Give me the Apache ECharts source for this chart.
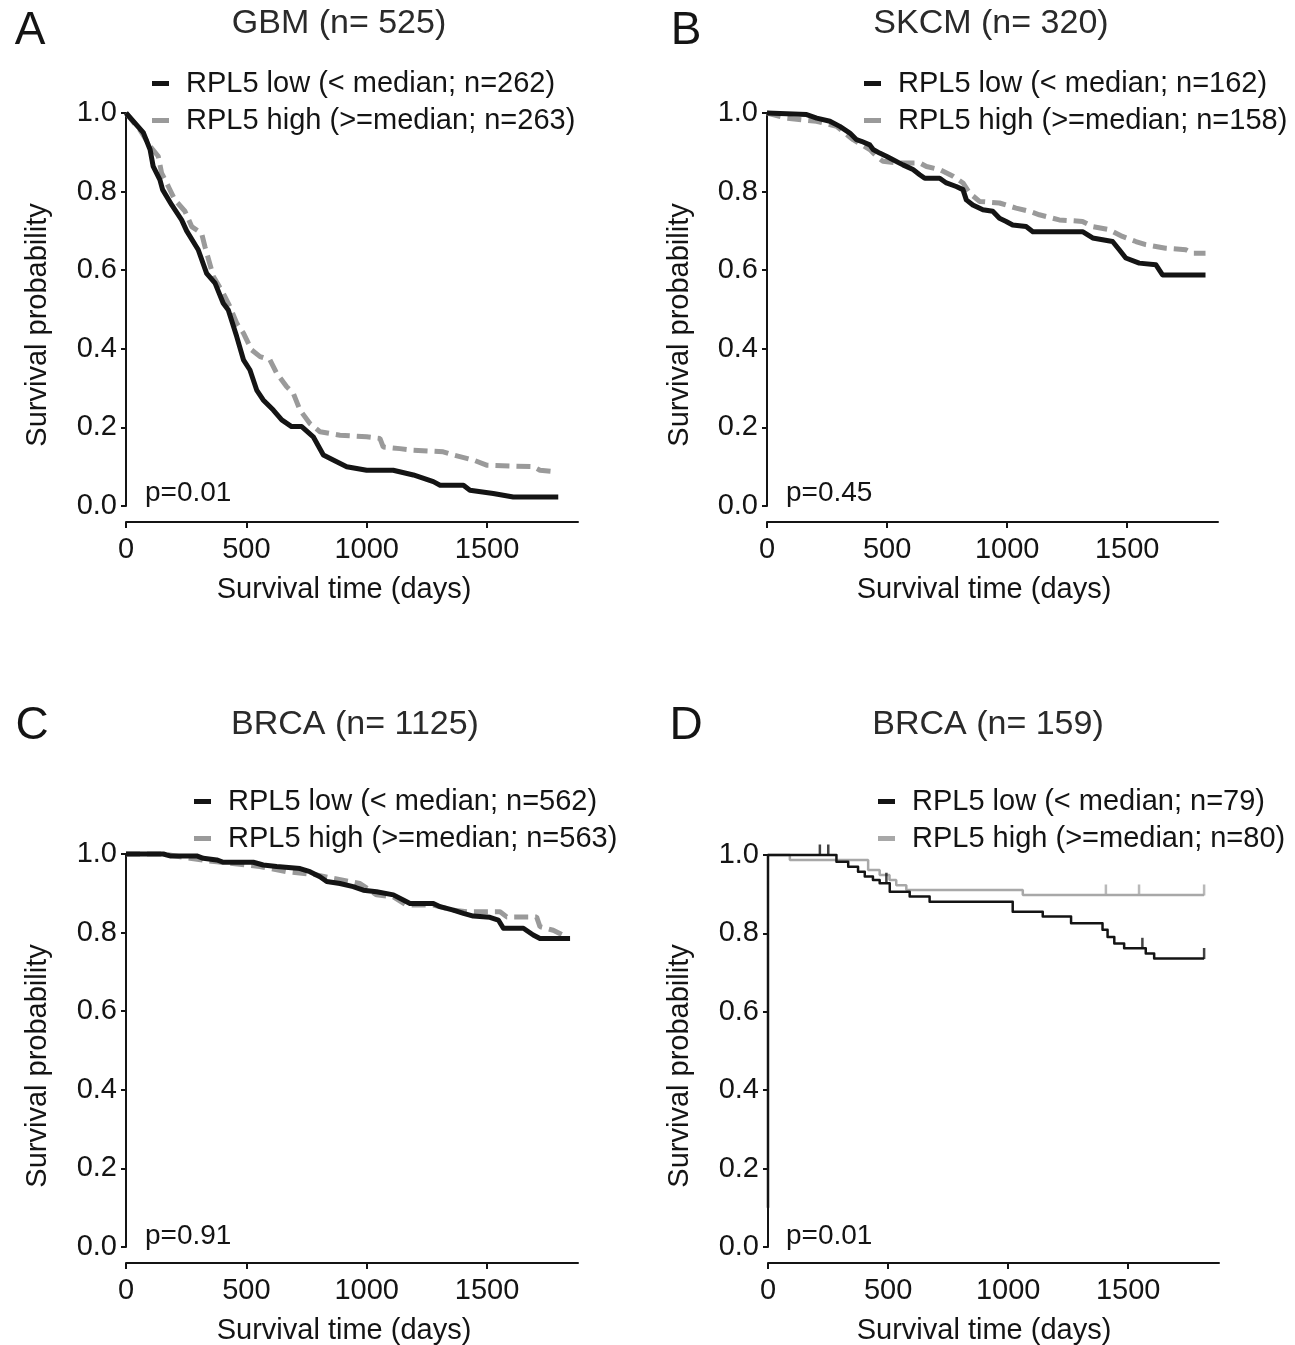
<!DOCTYPE html>
<html>
<head>
<meta charset="utf-8">
<script src="https://cdn.jsdelivr.net/npm/echarts@6/dist/echarts.min.js"></script>
<style>
  html, body { margin: 0; padding: 0; background: #ffffff; }
  #chart { width: 1295px; height: 1345px; }
</style>
</head>
<body>
<div id="chart"></div>
<script>
// ---------- data (days, survival probability) ----------
const timeTicks = [0, 500, 1000, 1500];

const panelLetters = ['A', 'B', 'C', 'D'];
const panelTitles = ['GBM (n= 525)', 'SKCM (n= 320)', 'BRCA (n= 1125)', 'BRCA (n= 159)'];
const pValues = ['p=0.01', 'p=0.45', 'p=0.91', 'p=0.01'];
const lowNames = ['RPL5 low (< median; n=262)', 'RPL5 low (< median; n=162)', 'RPL5 low (< median; n=562)', 'RPL5 low (< median; n=79)'];
const highNames = ['RPL5 high (>=median; n=263)', 'RPL5 high (>=median; n=158)', 'RPL5 high (>=median; n=563)', 'RPL5 high (>=median; n=80)'];

const gbmLow = [[0,1.0],[72,0.95],[100,0.907],[113,0.864],[141,0.83],[152,0.805],[190,0.766],[231,0.728],[252,0.70],[300,0.652],[335,0.592],[370,0.567],[404,0.516],[425,0.499],[460,0.431],[488,0.372],[515,0.346],[543,0.295],[570,0.27],[612,0.244],[647,0.219],[688,0.202],[730,0.202],[778,0.176],[820,0.13],[861,0.117],[917,0.10],[1000,0.091],[1110,0.091],[1194,0.079],[1277,0.062],[1305,0.053],[1402,0.053],[1429,0.04],[1526,0.032],[1609,0.023],[1796,0.023]];
const gbmHigh = [[0,1.0],[60,0.955],[100,0.915],[134,0.89],[148,0.847],[176,0.813],[203,0.779],[245,0.75],[273,0.711],[314,0.694],[328,0.66],[363,0.584],[404,0.541],[432,0.507],[460,0.465],[488,0.44],[522,0.397],[557,0.38],[598,0.372],[626,0.338],[667,0.304],[695,0.287],[723,0.244],[764,0.21],[806,0.189],[889,0.18],[1000,0.176],[1055,0.172],[1069,0.15],[1138,0.146],[1194,0.142],[1318,0.138],[1360,0.13],[1443,0.117],[1498,0.104],[1692,0.10],[1720,0.091],[1789,0.087]];

const skcmLow = [[0,1.0],[165,0.996],[207,0.987],[262,0.979],[303,0.966],[345,0.949],[373,0.932],[393,0.928],[428,0.919],[442,0.907],[469,0.898],[497,0.89],[525,0.881],[566,0.868],[608,0.856],[636,0.843],[657,0.834],[719,0.834],[747,0.822],[788,0.813],[816,0.805],[830,0.779],[857,0.766],[899,0.754],[940,0.75],[968,0.732],[996,0.724],[1023,0.715],[1079,0.711],[1107,0.698],[1314,0.698],[1356,0.682],[1439,0.673],[1467,0.652],[1494,0.631],[1550,0.618],[1619,0.614],[1647,0.588],[1826,0.588]];
const skcmHigh = [[0,1.0],[81,0.987],[206,0.979],[290,0.966],[359,0.932],[428,0.907],[456,0.89],[483,0.877],[539,0.873],[636,0.873],[664,0.864],[719,0.856],[775,0.839],[816,0.822],[844,0.796],[885,0.775],[968,0.771],[1037,0.758],[1093,0.75],[1134,0.741],[1217,0.728],[1314,0.724],[1356,0.711],[1425,0.703],[1480,0.686],[1536,0.673],[1577,0.665],[1660,0.656],[1744,0.652],[1772,0.643],[1826,0.643]];

const brcaLow = [[0,1.0],[155,1.0],[183,0.995],[294,0.995],[321,0.989],[377,0.985],[404,0.979],[529,0.979],[570,0.972],[626,0.968],[723,0.963],[764,0.955],[806,0.942],[834,0.93],[889,0.925],[944,0.917],[986,0.908],[1041,0.904],[1111,0.896],[1152,0.883],[1180,0.874],[1277,0.874],[1305,0.866],[1360,0.857],[1402,0.849],[1443,0.842],[1512,0.839],[1547,0.832],[1568,0.811],[1651,0.811],[1692,0.794],[1720,0.785],[1845,0.785]];
const brcaHigh = [[0,1.0],[155,1.0],[266,0.989],[377,0.98],[556,0.968],[667,0.955],[792,0.947],[861,0.938],[972,0.925],[1041,0.896],[1111,0.891],[1166,0.87],[1277,0.87],[1360,0.857],[1416,0.853],[1554,0.853],[1582,0.84],[1706,0.84],[1720,0.815],[1775,0.806],[1831,0.789]];

const brcaSubLow = [[0,0.10],[0,1.0],[285,0.983],[334,0.970],[375,0.957],[403,0.945],[437,0.936],[465,0.928],[507,0.906],[590,0.894],[673,0.881],[1019,0.855],[1144,0.843],[1262,0.826],[1393,0.809],[1414,0.791],[1442,0.774],[1483,0.762],[1573,0.749],[1608,0.736],[1816,0.736]];
const brcaSubHigh = [[0,1.0],[91,0.987],[417,0.962],[465,0.949],[506,0.936],[534,0.923],[576,0.911],[1061,0.898],[1816,0.898]];
const brcaSubLowCensor = [[216,1.0],[251,1.0],[493,0.928],[1559,0.762],[1816,0.736]];
const brcaSubHighCensor = [[1407,0.898],[1545,0.898],[1816,0.898]];

// ---------- layout ----------
const FONT = '"Liberation Sans", Arial, Helvetica, sans-serif';
const INK = '#141414';
const GRAY = '#9a9a9a';
const grids = [
  { left: 126, top: 113, width: 452, height: 393 },
  { left: 767, top: 113, width: 451, height: 393 },
  { left: 126, top: 854, width: 452, height: 393 },
  { left: 768, top: 855, width: 451, height: 392 }
];
const XMAX = 1878;

const xAxes = grids.map((g, i) => ({
  gridIndex: i, type: 'value', min: 0, max: XMAX, interval: 500, offset: 16,
  axisLine: { show: true, onZero: false, lineStyle: { color: INK, width: 2 } },
  axisTick: { show: true, length: 6, lineStyle: { color: INK, width: 2 }, customValues: timeTicks },
  axisLabel: { customValues: timeTicks, margin: 13, fontSize: 29, color: INK, fontFamily: FONT, formatter: v => String(v) },
  splitLine: { show: false }
}));
const yAxes = grids.map((g, i) => ({
  gridIndex: i, type: 'value', min: 0, max: 1, interval: 0.2,
  axisLine: { show: true, onZero: false, lineStyle: { color: INK, width: 2 } },
  axisTick: { show: true, length: 5, lineStyle: { color: INK, width: 2 } },
  axisLabel: { margin: 9, fontSize: 29, color: INK, fontFamily: FONT, formatter: v => v.toFixed(1) },
  splitLine: { show: false }
}));

const lowData = [gbmLow, skcmLow, brcaLow, brcaSubLow];
const highData = [gbmHigh, skcmHigh, brcaHigh, brcaSubHigh];

const series = [];
for (let i = 0; i < 4; i++) {
  const thin = i === 3;
  series.push({
    name: highNames[i], type: 'line', xAxisIndex: i, yAxisIndex: i,
    data: highData[i], showSymbol: false, symbol: 'none', clip: false,
    step: thin ? 'end' : false,
    color: thin ? '#a8a8a8' : GRAY,
    lineStyle: thin ? { color: '#a8a8a8', width: 2.5 } : { color: GRAY, width: 5, type: [14, 7], cap: 'butt' },
    z: 2
  });
  series.push({
    name: lowNames[i], type: 'line', xAxisIndex: i, yAxisIndex: i,
    data: lowData[i], showSymbol: false, symbol: 'none', clip: false,
    step: thin ? 'end' : false,
    color: INK,
    lineStyle: { color: INK, width: thin ? 2.5 : 5, join: 'round' },
    z: 3
  });
}
// censor marks for panel D
series.push({
  name: 'censorLow', type: 'scatter', xAxisIndex: 3, yAxisIndex: 3, data: brcaSubLowCensor,
  symbol: 'rect', symbolSize: [2.5, 11], symbolOffset: [0, -5], itemStyle: { color: INK }, z: 4, silent: true
});
series.push({
  name: 'censorHigh', type: 'scatter', xAxisIndex: 3, yAxisIndex: 3, data: brcaSubHighCensor,
  symbol: 'rect', symbolSize: [2.5, 11], symbolOffset: [0, -5], itemStyle: { color: '#a8a8a8' }, z: 2, silent: true
});

const legendPos = [
  { left: 147, top: 64 }, { left: 859, top: 64 }, { left: 189, top: 782 }, { left: 873, top: 782 }
];
const legends = legendPos.map((p, i) => ({
  left: p.left, top: p.top, orient: 'vertical', itemGap: 8, itemWidth: 17, itemHeight: 5,
  icon: 'rect', selectedMode: false,
  itemStyle: { borderWidth: 0 },
  data: [lowNames[i], highNames[i]],
  textStyle: { fontSize: 29, color: INK, fontFamily: FONT, padding: [0, 0, 0, 12] }
}));

// text positions
const letterPos = [[30, 31], [686, 31], [32, 726], [686, 726]];
const titlePos = [[339, 24], [991, 24], [355, 725], [988, 725]];
const pPos = [[145, 493], [786, 493], [145, 1236], [786, 1236]];
const yNamePos = [[38, 325], [680, 325], [38, 1066], [680, 1066]];
const xNamePos = [[344, 590], [984, 590], [344, 1331], [984, 1331]];

const graphics = [];
for (let i = 0; i < 4; i++) {
  graphics.push({ type: 'text', x: letterPos[i][0], y: letterPos[i][1],
    style: { text: panelLetters[i], font: '46px ' + FONT, fill: INK, textAlign: 'center', textVerticalAlign: 'middle' } });
  graphics.push({ type: 'text', x: titlePos[i][0], y: titlePos[i][1],
    style: { text: panelTitles[i], font: '34px ' + FONT, fill: '#2a2a2a', textAlign: 'center', textVerticalAlign: 'middle' } });
  graphics.push({ type: 'text', x: pPos[i][0], y: pPos[i][1],
    style: { text: pValues[i], font: '28px ' + FONT, fill: INK, textAlign: 'left', textVerticalAlign: 'middle' } });
  graphics.push({ type: 'text', x: yNamePos[i][0], y: yNamePos[i][1], rotation: Math.PI / 2,
    style: { text: 'Survival probability', font: '29px ' + FONT, fill: INK, textAlign: 'center', textVerticalAlign: 'middle' } });
  graphics.push({ type: 'text', x: xNamePos[i][0], y: xNamePos[i][1],
    style: { text: 'Survival time (days)', font: '29px ' + FONT, fill: INK, textAlign: 'center', textVerticalAlign: 'middle' } });
}

const chart = echarts.init(document.getElementById('chart'), null, { renderer: 'canvas' });
chart.setOption({
  backgroundColor: '#ffffff',
  animation: false,
  textStyle: { fontFamily: FONT },
  grid: grids,
  xAxis: xAxes,
  yAxis: yAxes,
  legend: legends,
  series: series,
  graphic: graphics
});
</script>
</body>
</html>
